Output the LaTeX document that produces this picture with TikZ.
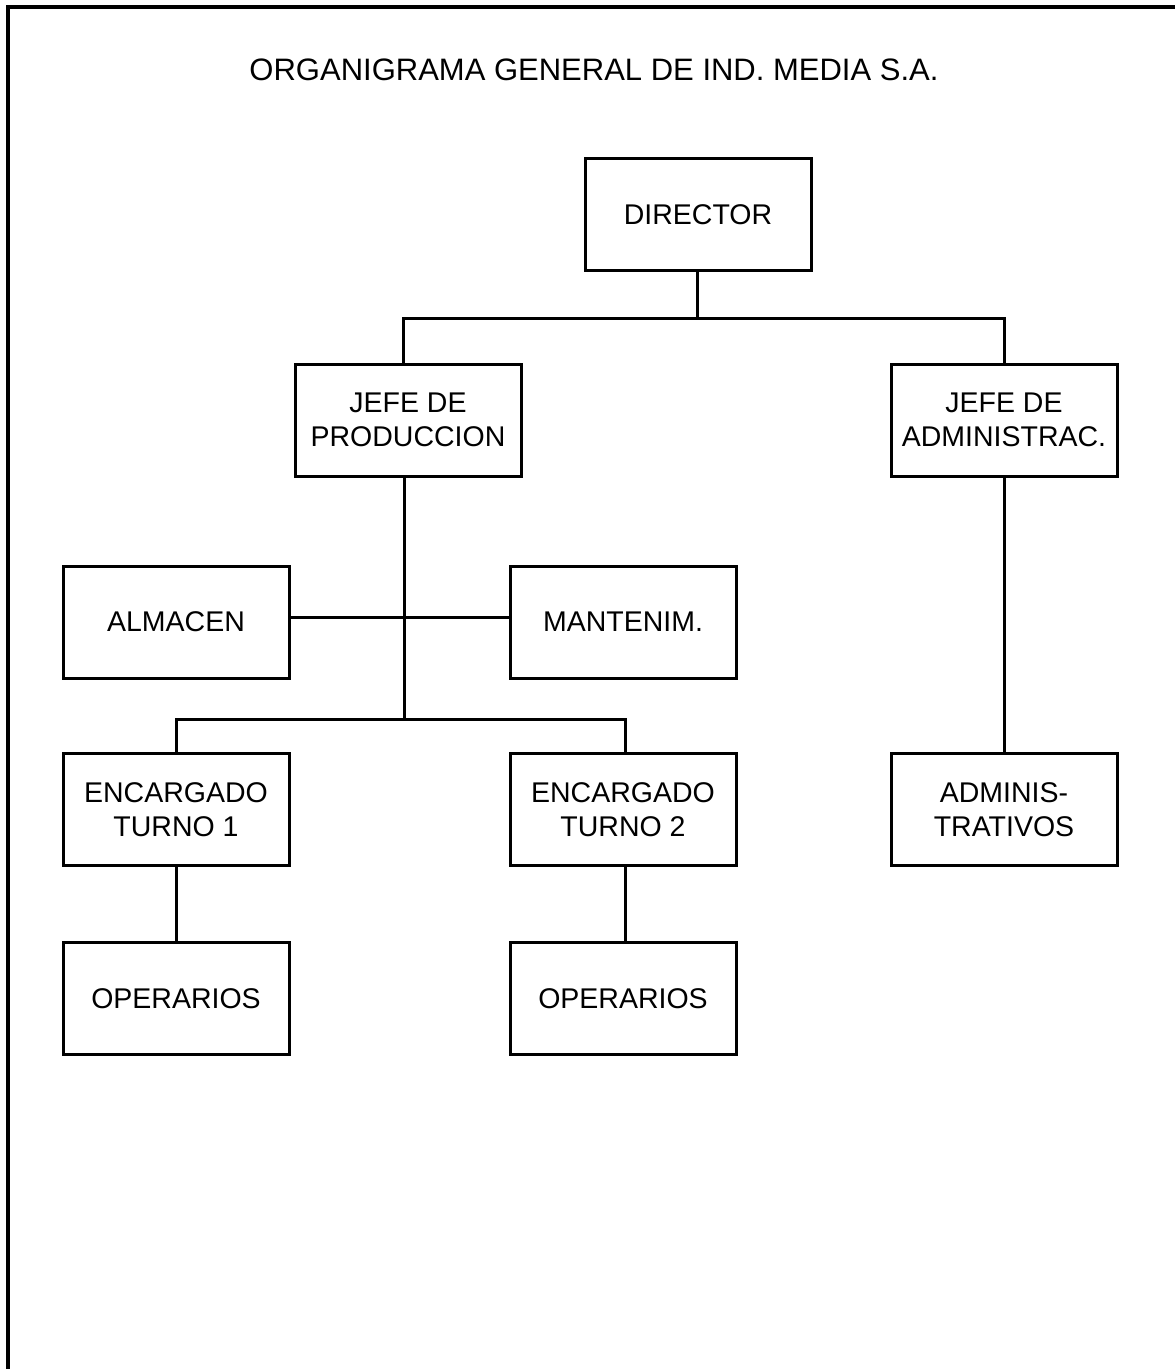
\documentclass[tikz,border=0pt]{standalone}
\usepackage{fontspec}
\setmainfont{Liberation Sans}
\begin{document}
\begin{tikzpicture}[x=1pt,y=-1pt,
  orgbox/.style={draw,line width=3pt,minimum width=226pt,minimum height=112pt,align=center,
    font=\fontsize{28.5}{34}\selectfont,inner sep=0pt},
  conn/.style={line width=3pt}]
\useasboundingbox (0,0) rectangle (1175,1369);
\draw[line width=3.5pt] (8,1369) -- (8,7) -- (1175,7);
\node[font=\fontsize{31}{34}\selectfont] (title) at (594,70) {ORGANIGRAMA GENERAL DE IND. MEDIA S.A.};
\node[orgbox] (dir) at (698,214.5) {DIRECTOR};
\node[orgbox] (jp) at (408,420) {JEFE DE\\PRODUCCION};
\node[orgbox] (ja) at (1004,420) {JEFE DE\\ADMINISTRAC.};
\node[orgbox] (alm) at (176,622) {ALMACEN};
\node[orgbox] (man) at (623,622) {MANTENIM.};
\node[orgbox] (e1) at (176,809.5) {ENCARGADO\\TURNO 1};
\node[orgbox] (e2) at (623,809.5) {ENCARGADO\\TURNO 2};
\node[orgbox] (adm) at (1004,809.5) {ADMINIS-\\TRATIVOS};
\node[orgbox] (o1) at (176,998.5) {OPERARIOS};
\node[orgbox] (o2) at (623,998.5) {OPERARIOS};
\coordinate (j1) at (697,318);
\coordinate (j2) at (404,719);
\coordinate (h) at (0,617);
\draw[conn] (dir.south -| j1) -- (j1);
\draw[conn] (jp.north -| 403,0) -- (403,318) -- (j1) -- (1004,318) -- (ja.north);
\draw[conn] (alm.east |- h) -- (man.west |- h);
\draw[conn] (jp.south -| j2) -- (j2);
\draw[conn] (e1.north) -- (176,719) -- (j2) -- (625,719) -- (e2.north -| 625,0);
\draw[conn] (ja.south) -- (adm.north);
\draw[conn] (e1.south) -- (o1.north);
\draw[conn] (e2.south -| 625,0) -- (o2.north -| 625,0);
\end{tikzpicture}
\end{document}
